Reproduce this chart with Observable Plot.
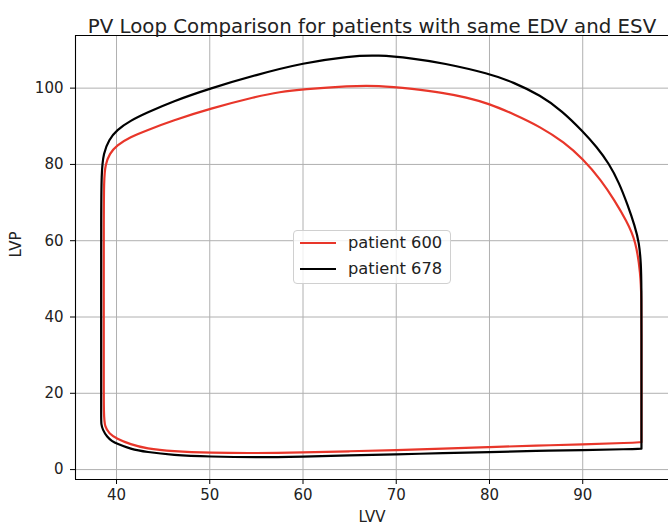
<!DOCTYPE html>
<html><head><meta charset="utf-8">
<script src="https://cdn.jsdelivr.net/npm/d3@7"></script>
<script src="https://cdn.jsdelivr.net/npm/@observablehq/plot@0.6"></script>
<style>
body{margin:0;background:#fff;font-family:"DejaVu Sans",sans-serif;}
#wrap{position:relative;width:668px;height:528px;overflow:hidden;}
#legend{position:absolute;left:293px;top:230px;width:158px;height:54px;box-sizing:border-box;
  border:1px solid #d0d0d0;border-radius:4px;background:rgba(255,255,255,0.8);font-size:16.3px;color:#222;}
#legend .row{position:absolute;left:0;height:20px;line-height:20px;white-space:nowrap;}
#legend .sw{position:absolute;left:6px;top:9px;width:36px;height:2px;}
#legend .lab{position:absolute;left:54px;top:0;}
</style></head><body><div id="wrap"></div>
<script>
const title = "PV Loop Comparison for patients with same EDV and ESV";
const xLabel = "LVV";
const yLabel = "LVP";
const seriesNames = ["patient 600", "patient 678"];
const seriesColors = ["#e8362a", "#000000"];
const xTicks = [40, 50, 60, 70, 80, 90];
const yTicks = [0, 20, 40, 60, 80, 100];
const xDomain = [35.6, 99.2];
const yDomain = [-2.6, 113.8];

// patient 600 loop (volume, pressure)
const p600V = [96.3, 96.3, 96.3, 96.3, 96.2, 95.7, 94.7, 93.4, 92, 90, 88, 85.5, 82.5, 80, 77.5, 75, 71.8, 68, 65, 60, 57.5, 55, 50, 46, 43.2, 41.5, 40, 39.25, 38.8, 38.65, 38.63, 38.63, 38.63, 38.63, 38.75, 39.2, 40, 41.5, 43.2, 46, 50, 55, 60, 65, 70, 75, 80, 85, 90, 95, 96.3];
const p600P = [7.2, 20, 35, 45, 51.3, 60, 65.2, 70.6, 75.8, 81.5, 85.8, 89.8, 93.3, 95.9, 97.6, 98.8, 99.8, 100.7, 100.6, 99.7, 99, 97.8, 94.6, 91.5, 88.9, 87.2, 85, 82.8, 80, 76, 65, 45, 25, 14, 11.2, 9.5, 8.1, 6.6, 5.5, 4.8, 4.4, 4.3, 4.5, 4.8, 5.1, 5.5, 5.9, 6.3, 6.6, 7.0, 7.2];
// patient 678 loop
const p678V = [96.3, 96.3, 96.3, 96.3, 96.25, 96.05, 95.6, 94.8, 93.9, 92.8, 91.5, 90, 87.8, 85.5, 82.5, 80, 75, 71.8, 68, 65, 60, 55, 50, 46, 43.2, 41.5, 40, 39.2, 38.6, 38.38, 38.35, 38.35, 38.35, 38.35, 38.36, 38.5, 39, 39.5, 40, 41.5, 43.2, 46, 50, 55, 60, 65, 70, 75, 80, 85, 90, 95, 96.05, 96.3];
const p678P = [5.5, 20, 35, 48, 54, 59.5, 63.8, 69.5, 75.2, 80.3, 84.6, 88.7, 94.0, 98.1, 101.6, 103.8, 106.6, 107.8, 108.7, 108.4, 106.6, 103.5, 99.9, 96.5, 93.5, 91.5, 89, 86.5, 83, 78, 65, 45, 25, 13, 12, 10.5, 8.5, 7.5, 6.8, 5.4, 4.6, 3.8, 3.4, 3.2, 3.4, 3.7, 4.0, 4.3, 4.6, 4.9, 5.1, 5.35, 5.45, 5.5];

const toRows = (V, P) => V.map((v, i) => ({v, p: P[i]}));
const loops = [toRows(p600V, p600P), toRows(p678V, p678P)];

const font = "DejaVu Sans";
const chart = Plot.plot({
  width: 668, height: 528,
  marginLeft: 75, marginTop: 35, marginBottom: 49, marginRight: 0,
  style: {fontFamily: font, fontSize: "15px", color: "#000", background: "#fff"},
  x: {domain: xDomain},
  y: {domain: yDomain},
  marks: [
    Plot.gridX(xTicks, {stroke: "#b0b0b0", strokeOpacity: 1, strokeWidth: 1}),
    Plot.gridY(yTicks, {stroke: "#b0b0b0", strokeOpacity: 1, strokeWidth: 1}),
    ...loops.map((rows, i) => Plot.line(rows, {x: "v", y: "p", stroke: seriesColors[i], strokeWidth: 2.2, curve: "basis"})),
    Plot.ruleX([xDomain[0]], {stroke: "#000", strokeWidth: 1.1}),
    Plot.ruleY([yDomain[0], yDomain[1]], {stroke: "#000", strokeWidth: 1.1}),
    Plot.axisX(xTicks, {tickSize: 5, tickPadding: 5, fontSize: 15, label: null, fill: "#222"}),
    Plot.axisY(yTicks, {tickSize: 5, tickPadding: 7, fontSize: 15, label: null, fill: "#222"}),
    Plot.text([title], {text: d => d, frameAnchor: "top", dy: -16.5, fontSize: 19.8, fill: "#222", fontFamily: font}),
    Plot.text([xLabel], {text: d => d, frameAnchor: "bottom", dy: 42, fontSize: 15, fill: "#222", fontFamily: font}),
    Plot.text([yLabel], {text: d => d, frameAnchor: "left", dx: -59, rotate: -90, fontSize: 15, fill: "#222", fontFamily: font})
  ]
});
const wrap = document.getElementById("wrap");
wrap.appendChild(chart);
const legend = document.createElement("div");
legend.id = "legend";
seriesNames.forEach((name, i) => {
  const row = document.createElement("div");
  row.className = "row";
  row.style.top = (2 + i * 26) + "px";
  row.style.width = "150px";
  row.innerHTML = `<span class="sw" style="background:${seriesColors[i]}"></span><span class="lab">${name}</span>`;
  legend.appendChild(row);
});
wrap.appendChild(legend);
</script></body></html>
